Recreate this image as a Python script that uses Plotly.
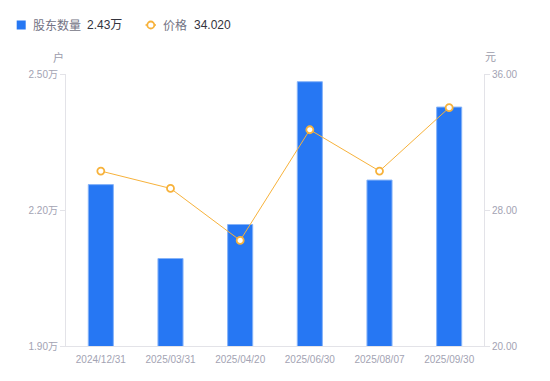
import plotly.graph_objects as go

categories = ["2024/12/31", "2025/03/31", "2025/04/20", "2025/06/30", "2025/08/07", "2025/09/30"]
holders_wan = [2.256, 2.093, 2.168, 2.483, 2.266, 2.427]
price = [30.29, 29.27, 26.21, 32.72, 30.29, 34.02]
left_ticks = [1.9, 2.2, 2.5]
left_tick_text = ["1.90万", "2.20万", "2.50万"]
right_ticks = [20, 28, 36]
right_tick_text = ["20.00", "28.00", "36.00"]
legend_holders = "2.43万"
legend_price = "34.020"

FONT = "Liberation Sans, Arial, Noto Sans CJK SC, sans-serif"
BLUE = "#2677F3"
ORANGE = "#F7B23B"
GRAY = "#A3A3B3"
AXIS = "#E3E3E8"

L, R, T, B = 66, 66, 74, 35

fig = go.Figure()
fig.add_trace(go.Bar(
    x=categories, y=holders_wan, name="股东数量",
    marker=dict(color=BLUE, line=dict(color="#86B3F8", width=1)),
    yaxis="y", showlegend=False,
))
fig.add_trace(go.Scatter(
    x=categories, y=price, name="价格", mode="lines+markers",
    line=dict(color=ORANGE, width=1),
    marker=dict(symbol="circle", size=7, color="white", line=dict(color=ORANGE, width=1.8)),
    yaxis="y2", showlegend=False,
))

fig.update_layout(
    width=550, height=381,
    margin=dict(l=L, r=R, t=T, b=B),
    paper_bgcolor="white", plot_bgcolor="white",
    font=dict(family=FONT, size=10, color=GRAY),
    bargap=0.64,
    xaxis=dict(
        type="category", showline=True, linecolor=AXIS, linewidth=1,
        showgrid=False, ticks="outside", ticklen=4, tickcolor="rgba(0,0,0,0)",
        tickfont=dict(size=10, color=GRAY), zeroline=False,
    ),
    yaxis=dict(
        range=[1.9, 2.5], tickvals=left_ticks, ticktext=left_tick_text,
        showgrid=False, zeroline=False, showline=True, linecolor=AXIS, linewidth=1,
        ticks="outside", ticklen=5, tickcolor=AXIS, tickfont=dict(size=10, color=GRAY),
    ),
    yaxis2=dict(
        range=[20, 36], tickvals=right_ticks, ticktext=right_tick_text,
        overlaying="y", side="right",
        showgrid=False, zeroline=False, showline=True, linecolor=AXIS, linewidth=1,
        ticks="outside", ticklen=5, tickcolor=AXIS, tickfont=dict(size=10, color=GRAY),
    ),
)

def ann(text, px, py, color, size, anchor="left"):
    fig.add_annotation(
        text=text, xref="paper", yref="paper", x=0, y=1,
        xshift=px - L, yshift=T - py, xanchor=anchor, yanchor="middle",
        showarrow=False, font=dict(family=FONT, size=size, color=color),
    )

# unit labels
ann("户", 58.7, 57, "#9C9CAC", 11, "center")
ann("元", 490, 57, "#9C9CAC", 11, "center")

# custom legend
ann("股东数量", 31, 25, "#737384", 12)
ann(legend_holders, 85, 25, "#33333D", 12)
ann("价格", 161, 25, "#737384", 12)
ann(legend_price, 192, 25, "#33333D", 12)

fig.add_shape(type="rect", xref="paper", yref="paper", xsizemode="pixel", ysizemode="pixel",
              xanchor=0, yanchor=1, x0=16.7 - L, x1=25.7 - L, y0=T - 29.5, y1=T - 20.5,
              fillcolor=BLUE, line=dict(width=0))
fig.add_shape(type="line", xref="paper", yref="paper", xsizemode="pixel", ysizemode="pixel",
              xanchor=0, yanchor=1, x0=145.5 - L, x1=156 - L, y0=T - 25, y1=T - 25,
              line=dict(color=ORANGE, width=1.5))
fig.add_shape(type="circle", xref="paper", yref="paper", xsizemode="pixel", ysizemode="pixel",
              xanchor=0, yanchor=1, x0=147.3 - L, x1=154.3 - L, y0=T - 28.5, y1=T - 21.5,
              fillcolor="white", line=dict(color=ORANGE, width=1.8))

fig.write_html("out.html", config={"displayModeBar": False},
               post_script="document.body.style.margin='0';")
